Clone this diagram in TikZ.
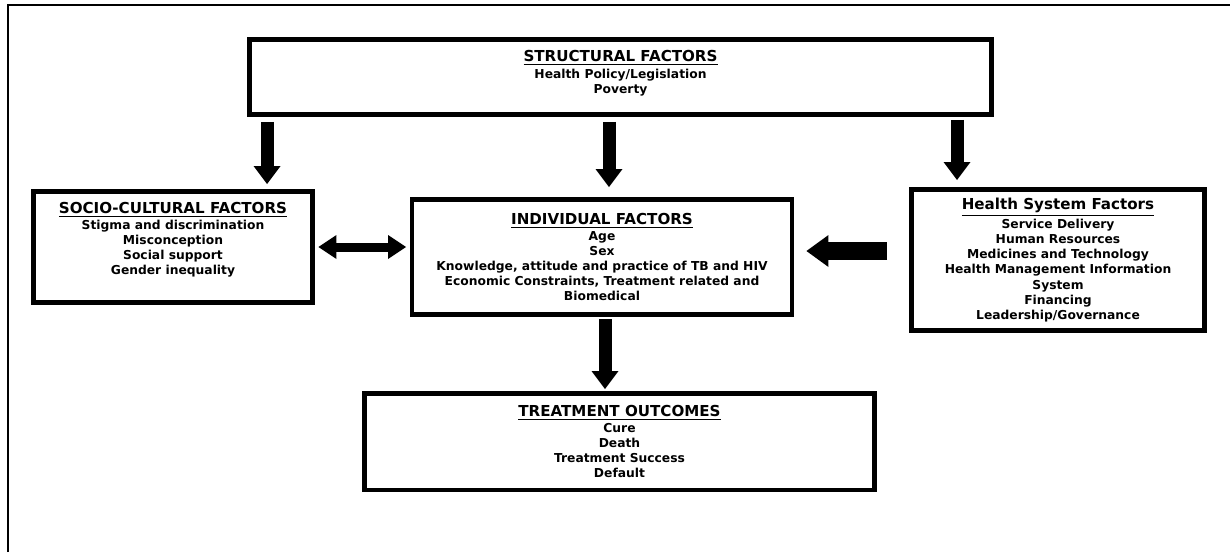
\documentclass[tikz,border=0pt]{standalone}
\usepackage{fontspec}
\setmainfont{DejaVu Sans}
\usetikzlibrary{calc,arrows.meta}
\newcommand\hd[1]{{\fontsize{8.6}{10}\selectfont\underline{#1}}\\[0.6pt]}

\begin{document}
\begin{tikzpicture}[x=0.02cm, y=-0.02cm,
    factor/.style={rectangle, draw, line width=0.09cm, align=center, inner sep=0pt,
      font=\fontsize{7}{8.6}\selectfont\bfseries},
    bigarrow/.style={line width=0.26cm, -{Triangle[width=0.54cm, length=0.36cm, line width=0pt]}},
    twoarrow/.style={line width=0.18cm, {Triangle[width=0.48cm, length=0.36cm, line width=0pt]}-{Triangle[width=0.48cm, length=0.36cm, line width=0pt]}},
    widearrow/.style={line width=0.36cm, -{Triangle[width=0.64cm, length=0.44cm, line width=0pt]}}]

  \useasboundingbox (0,0) rectangle (1230,552);
  \draw[line width=0.05cm] (8,552) -- (8,5) -- (1230,5);

  \node[factor, minimum width=14.85cm, minimum height=1.51cm, text depth=5.7pt] (S) at (620.5,77)
    {\hd{STRUCTURAL FACTORS}Health Policy/Legislation\\Poverty};
  \node[factor, minimum width=5.59cm, minimum height=2.23cm, text depth=9.7pt] (C) at (173,247)
    {\hd{SOCIO-CULTURAL FACTORS}Stigma and discrimination\\Misconception\\Social support\\Gender inequality};
  \node[factor, minimum width=7.61cm, minimum height=2.31cm] (I) at (602,257)
    {\hd{INDIVIDUAL FACTORS}Age\\Sex\\Knowledge, attitude and practice of TB and HIV\\Economic Constraints, Treatment related and\\Biomedical};
  \node[factor, minimum width=5.87cm, minimum height=2.83cm] (H) at (1058,260)
    {\hd{Health System Factors}Service Delivery\\Human Resources\\Medicines and Technology\\Health Management Information\\System\\Financing\\Leadership/Governance};
  \node[factor, minimum width=10.21cm, minimum height=1.93cm] (T) at (619.5,441.5)
    {\hd{TREATMENT OUTCOMES}Cure\\Death\\Treatment Success\\Default};

  \draw[bigarrow, shorten <=0.1cm, shorten >=0.1cm] ([xshift=0.4cm]S.south west) -- ([xshift=0.4cm]S.south west |- C.north);
  \draw[bigarrow, shorten <=0.1cm, shorten >=0.2cm] ([xshift=0.14cm]I.north |- S.south) -- ([xshift=0.14cm]I.north);
  \draw[bigarrow, shorten <=0.06cm, shorten >=0.14cm] ([xshift=0.96cm]H.north west |- S.south) -- ([xshift=0.96cm]H.north west);
  \draw[twoarrow, shorten <=0.07cm, shorten >=0.07cm] (C.east) -- (C.east -| I.west);
  \draw[widearrow, shorten <=0.44cm, shorten >=0.24cm] ([yshift=0.18cm]H.west) -- ([yshift=0.18cm]H.west -| I.east);
  \draw[bigarrow, shorten <=0.04cm, shorten >=0.04cm] ([xshift=0.06cm]I.south) -- ([xshift=0.06cm]I.south |- T.north);
\end{tikzpicture}
\end{document}
